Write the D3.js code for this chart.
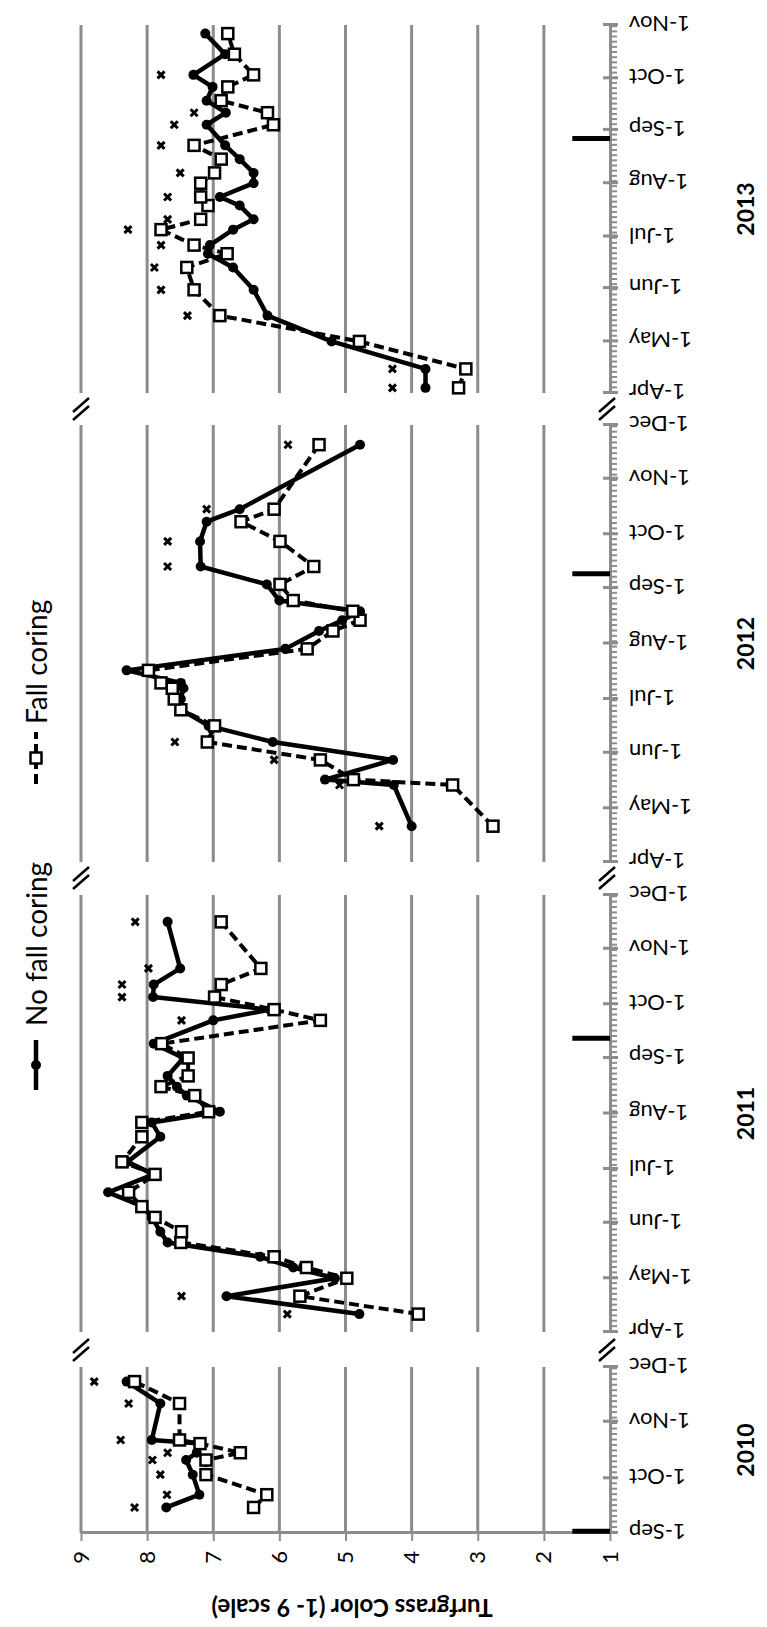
<!DOCTYPE html>
<html>
<head>
<meta charset="utf-8">
<script src="https://cdn.jsdelivr.net/npm/d3@7"></script>
<style>
  body { margin: 0; background: #fff; }
  svg { display: block; }
</style>
</head>
<body>
<div id="chart"></div>
<script>
// ---- data ----
var years = ['2010', '2011', '2012', '2013'];
var panelStart = ['2010-09-01', '2011-04-01', '2012-04-01', '2013-04-01'];
var panelEnd = ['2010-12-01', '2011-12-01', '2012-12-01', '2013-11-01'];
var coringDates = ['2010-09-02', '2011-09-12', '2012-09-09', '2013-08-27'];
var valueTicks = [1, 2, 3, 4, 5, 6, 7, 8, 9];

var dates2010 = ['2010-09-15', '2010-09-22', '2010-10-03', '2010-10-11', '2010-10-15', '2010-10-20', '2010-10-22', '2010-11-11', '2010-11-23'];
var noCoring2010 = [7.71, 7.21, 7.31, 7.41, 7.25, 7.20, 7.93, 7.80, 8.31];
var fallCoring2010 = [6.39, 6.19, 7.11, 7.11, 6.59, 7.20, 7.51, 7.51, 8.19];
var markDates2010 = ['2010-09-15', '2010-09-22', '2010-10-03', '2010-10-11', '2010-10-15', '2010-10-22', '2010-11-11', '2010-11-23'];
var markValues2010 = [8.19, 7.70, 7.80, 7.92, 7.69, 8.40, 8.28, 8.80];

var dates2011 = ['2011-04-11', '2011-04-21', '2011-05-01', '2011-05-07', '2011-05-13', '2011-05-21', '2011-05-27', '2011-06-04', '2011-06-10', '2011-06-18', '2011-06-28', '2011-07-05', '2011-07-19', '2011-07-27', '2011-08-02', '2011-08-11', '2011-08-16', '2011-08-22', '2011-09-01', '2011-09-09', '2011-09-22', '2011-09-28', '2011-10-05', '2011-10-12', '2011-10-21', '2011-11-16'];
var noCoring2011 = [4.79, 6.80, 5.16, 5.79, 6.29, 7.69, 7.80, 7.93, 8.06, 8.59, 7.90, 8.30, 7.80, 7.93, 6.90, 7.40, 7.55, 7.69, 7.45, 7.90, 7.00, 6.14, 7.91, 7.90, 7.50, 7.69];
var fallCoring2011 = [3.90, 5.69, 4.98, 5.59, 6.08, 7.49, 7.48, 7.88, 8.08, 8.28, 7.88, 8.38, 8.08, 8.08, 7.07, 7.28, 7.79, 7.38, 7.38, 7.78, 5.38, 6.08, 6.98, 6.88, 6.28, 6.88];
var markDates2011 = ['2011-04-11', '2011-04-21', '2011-09-22', '2011-10-05', '2011-10-12', '2011-10-21', '2011-11-16'];
var markValues2011 = [5.88, 7.48, 7.48, 8.38, 8.38, 7.98, 8.18];

var dates2012 = ['2012-04-21', '2012-05-14', '2012-05-17', '2012-05-28', '2012-06-07', '2012-06-16', '2012-06-25', '2012-07-01', '2012-07-07', '2012-07-10', '2012-07-17', '2012-07-29', '2012-08-08', '2012-08-14', '2012-08-19', '2012-08-25', '2012-09-03', '2012-09-13', '2012-09-27', '2012-10-08', '2012-10-15', '2012-11-20'];
var noCoring2012 = [4.00, 4.27, 5.31, 4.28, 6.10, 7.07, 7.48, 7.49, 7.45, 7.49, 8.31, 5.91, 5.40, 5.05, 4.78, 6.00, 6.19, 7.19, 7.20, 7.10, 6.60, 4.78];
var fallCoring2012 = [2.77, 3.38, 4.88, 5.38, 7.09, 6.98, 7.49, 7.59, 7.62, 7.79, 7.98, 5.58, 5.19, 4.78, 4.89, 5.79, 5.99, 5.48, 5.99, 6.58, 6.08, 5.40];
var markDates2012 = ['2012-04-21', '2012-05-14', '2012-05-28', '2012-06-07', '2012-09-13', '2012-09-27', '2012-10-15', '2012-11-20'];
var markValues2012 = [4.49, 5.09, 6.08, 7.58, 7.69, 7.69, 7.10, 5.87];

var dates2013 = ['2013-04-04', '2013-04-15', '2013-05-01', '2013-05-16', '2013-05-31', '2013-06-13', '2013-06-21', '2013-06-26', '2013-07-05', '2013-07-11', '2013-07-19', '2013-07-24', '2013-08-01', '2013-08-07', '2013-08-15', '2013-08-23', '2013-09-04', '2013-09-11', '2013-09-18', '2013-09-26', '2013-10-03', '2013-10-15', '2013-10-27'];
var noCoring2013 = [3.79, 3.79, 5.21, 6.18, 6.39, 6.70, 7.08, 7.05, 6.70, 6.39, 6.60, 6.90, 6.39, 6.39, 6.60, 6.82, 7.10, 6.81, 7.10, 7.01, 7.30, 6.82, 7.12];
var fallCoring2013 = [3.29, 3.18, 4.79, 6.90, 7.29, 7.40, 6.79, 7.29, 7.79, 7.19, 7.08, 7.19, 7.19, 6.98, 6.88, 7.29, 6.09, 6.18, 6.88, 6.78, 6.39, 6.68, 6.78];
var markDates2013 = ['2013-04-04', '2013-04-15', '2013-05-16', '2013-05-31', '2013-06-13', '2013-06-26', '2013-07-05', '2013-07-11', '2013-07-24', '2013-08-07', '2013-08-23', '2013-09-04', '2013-09-11', '2013-10-03'];
var markValues2013 = [4.29, 4.29, 7.39, 7.79, 7.89, 7.79, 8.29, 7.69, 7.69, 7.50, 7.79, 7.59, 7.29, 7.79];

var allDates = [dates2010, dates2011, dates2012, dates2013];
var allNoCoring = [noCoring2010, noCoring2011, noCoring2012, noCoring2013];
var allFallCoring = [fallCoring2010, fallCoring2011, fallCoring2012, fallCoring2013];
var allMarkDates = [markDates2010, markDates2011, markDates2012, markDates2013];
var allMarkValues = [markValues2010, markValues2011, markValues2012, markValues2013];

// ---- layout (chart is drawn upright, then turned a quarter turn) ----
var W = 1627, H = 767;
var panelRange = [[94, 260], [295, 732], [765, 1202], [1234, 1602]];
var gridColor = '#8c8c8c';
var font = 'Lato, "Liberation Sans", sans-serif';

var parse = d3.timeParse('%Y-%m-%d');
var y = d3.scaleLinear().domain([1, 9]).range([610, 81]);

var svg = d3.select('#chart').append('svg')
  .attr('width', 767)
  .attr('height', 1627);

var g = svg.append('g')
  .attr('transform', 'translate(0,' + W + ') rotate(-90)');

var line = function(x) {
  return d3.line().x(function(d) { return x(d.date); }).y(function(d) { return y(d.v); });
};

var scales = [];

years.forEach(function(yr, i) {
  var start = parse(panelStart[i]), end = parse(panelEnd[i]);
  var x = d3.scaleTime().domain([start, end]).range(panelRange[i]);
  scales.push(x);
  var p = g.append('g');

  // gridlines
  p.selectAll('.grid').data(valueTicks.slice(1)).enter().append('line')
    .attr('x1', panelRange[i][0]).attr('x2', panelRange[i][1])
    .attr('y1', function(d) { return y(d); }).attr('y2', function(d) { return y(d); })
    .attr('stroke', gridColor).attr('stroke-width', 3);

  // minor ticks, every 3 days
  var minor = d3.axisBottom(x)
    .tickValues(d3.timeDay.range(start, d3.timeDay.offset(end, 1), 3))
    .tickFormat('').tickSize(7).tickSizeOuter(0);
  var mg = p.append('g').attr('transform', 'translate(0,' + y(1) + ')').call(minor);
  mg.select('.domain').remove();
  mg.selectAll('line').attr('stroke', gridColor).attr('stroke-width', 2);

  // month axis
  var months = d3.timeMonth.range(start, d3.timeDay.offset(end, 1));
  var axis = d3.axisBottom(x).tickValues(months)
    .tickFormat(d3.timeFormat('%-d-%b')).tickSize(8).tickSizeOuter(0);
  var ag = p.append('g').attr('transform', 'translate(0,' + y(1) + ')').call(axis);
  ag.select('.domain').attr('stroke', gridColor).attr('stroke-width', 3);
  ag.selectAll('.tick line').attr('y1', -7).attr('stroke', gridColor).attr('stroke-width', 3);
  ag.selectAll('.tick text')
    .attr('x', 0).attr('y', 0).attr('dy', null)
    .attr('transform', 'translate(0,19) rotate(-90)')
    .attr('text-anchor', 'end').attr('dominant-baseline', 'central')
    .attr('fill', '#000').style('font-family', font).style('font-size', '22px');

  // series
  var dts = allDates[i].map(parse);
  var nc = dts.map(function(d, k) { return { date: d, v: allNoCoring[i][k] }; });
  var fc = dts.map(function(d, k) { return { date: d, v: allFallCoring[i][k] }; });
  var mk = allMarkDates[i].map(function(d, k) { return { date: parse(d), v: allMarkValues[i][k] }; });

  p.append('path').datum(fc).attr('d', line(x))
    .attr('fill', 'none').attr('stroke', '#000').attr('stroke-width', 4)
    .attr('stroke-dasharray', '10,5');
  p.append('path').datum(nc).attr('d', line(x))
    .attr('fill', 'none').attr('stroke', '#000').attr('stroke-width', 4.5)
    .attr('stroke-linejoin', 'round');

  p.selectAll('.nc').data(nc).enter().append('circle')
    .attr('cx', function(d) { return x(d.date); })
    .attr('cy', function(d) { return y(d.v); })
    .attr('r', 5).attr('fill', '#000');

  p.selectAll('.fc').data(fc).enter().append('rect')
    .attr('x', function(d) { return x(d.date) - 5.5; })
    .attr('y', function(d) { return y(d.v) - 5.5; })
    .attr('width', 11).attr('height', 11)
    .attr('fill', '#fff').attr('stroke', '#000').attr('stroke-width', 2.5);

  p.selectAll('.mk').data(mk).enter().append('path')
    .attr('transform', function(d) { return 'translate(' + x(d.date) + ',' + y(d.v) + ')'; })
    .attr('d', 'M-3.5,-3.5L3.5,3.5M-3.5,3.5L3.5,-3.5')
    .attr('stroke', '#000').attr('stroke-width', 3);

  // year label
  g.append('text')
    .attr('x', (panelRange[i][0] + panelRange[i][1]) / 2).attr('y', 745)
    .attr('text-anchor', 'middle').attr('dominant-baseline', 'central')
    .style('font-family', font).style('font-size', '23px').style('font-weight', 'bold')
    .text(yr);
});

// value axis on the first panel
var va = d3.axisLeft(y).tickValues(valueTicks).tickSize(8).tickPadding(10).tickSizeOuter(0);
var vg = g.append('g').attr('transform', 'translate(' + panelRange[0][0] + ',0)').call(va);
vg.select('.domain').attr('stroke', gridColor).attr('stroke-width', 3);
vg.selectAll('.tick line').attr('stroke', gridColor).attr('stroke-width', 2);
vg.selectAll('.tick text').attr('fill', '#000').style('font-family', font).style('font-size', '22px');

// coring date bars (drawn over the axes)
coringDates.forEach(function(c, i) {
  var cx = scales[i](parse(c));
  g.append('line')
    .attr('x1', cx).attr('x2', cx)
    .attr('y1', y(1)).attr('y2', y(1.57))
    .attr('stroke', '#000').attr('stroke-width', 5);
});

// axis title
g.append('text')
  .attr('transform', 'translate(19,352) rotate(-90)')
  .attr('text-anchor', 'middle').attr('dominant-baseline', 'central')
  .style('font-family', font).style('font-size', '24px').style('font-weight', 'bold')
  .text('Turfgrass Color (1- 9 scale)');

// break marks between panels
var breaks = [277, 749, 1218];
breaks.forEach(function(bx) {
  [y(9), y(1) - 3].forEach(function(by) {
    [-4, 4].forEach(function(off) {
      g.append('line')
        .attr('x1', bx + off - 7).attr('y1', by - 8)
        .attr('x2', bx + off + 7).attr('y2', by + 8)
        .attr('stroke', '#000').attr('stroke-width', 2.5);
    });
  });
});

// legend
var legend = g.append('g').attr('transform', 'translate(0,36)');
var l1 = legend.append('g').attr('transform', 'translate(537,0)');
l1.append('line').attr('x1', 0).attr('x2', 50).attr('stroke', '#000').attr('stroke-width', 4.5);
l1.append('circle').attr('cx', 25).attr('r', 5).attr('fill', '#000');
l1.append('text').attr('x', 64).attr('dominant-baseline', 'central')
  .style('font-family', font).style('font-size', '28px').text('No fall coring');
var l2 = legend.append('g').attr('transform', 'translate(843,0)');
l2.append('line').attr('x1', 0).attr('x2', 52).attr('stroke', '#000').attr('stroke-width', 4)
  .attr('stroke-dasharray', '10,5');
l2.append('rect').attr('x', 20.5).attr('y', -5.5).attr('width', 11).attr('height', 11)
  .attr('fill', '#fff').attr('stroke', '#000').attr('stroke-width', 2.5);
l2.append('text').attr('x', 60).attr('dominant-baseline', 'central')
  .style('font-family', font).style('font-size', '28px').text('Fall coring');
</script>
</body>
</html>
